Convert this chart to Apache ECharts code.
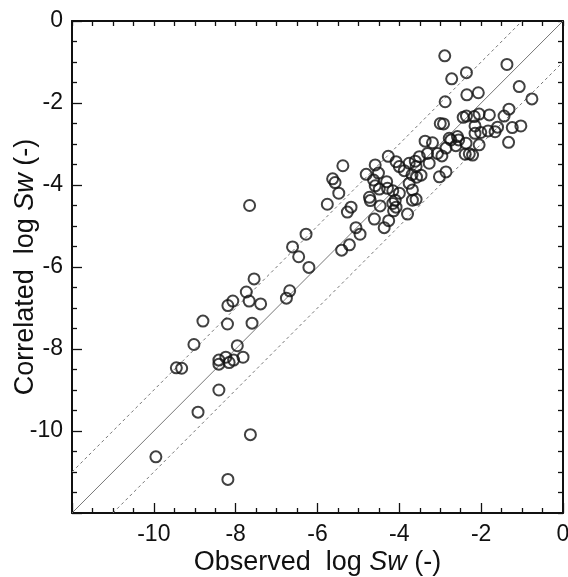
<!DOCTYPE html>
<html>
<head>
<meta charset="utf-8">
<script src="https://cdn.jsdelivr.net/npm/echarts@6/dist/echarts.min.js"></script>
<style>
  html, body { margin: 0; padding: 0; background: #fff; }
  #chart { width: 568px; height: 577px; }
</style>
</head>
<body>
<div id="chart"></div>
<script>
// Observed vs correlated log Sw
const observedLogSw = [
  -9.95, -8.19, -7.64, -8.92, -8.41, -9.45, -9.32, -8.41, -8.24, -8.41,
  -8.16, -8.05, -7.82, -9.02, -7.96, -8.80, -8.20, -7.60, -8.19, -8.07,
  -7.67, -7.39, -7.74, -7.55, -7.66, -6.68, -6.76, -6.21, -6.46, -6.61,
  -6.28, -5.41, -5.22, -5.76, -5.27, -5.18, -5.48, -5.63, -5.57, -5.38,
  -5.06, -4.96, -4.81, -4.59, -4.27, -4.61, -4.26, -4.37, -4.73, -4.71,
  -4.47, -4.16, -4.08, -4.14, -3.80, -4.63, -4.31, -4.59, -4.49, -4.29,
  -4.16, -4.00, -4.10, -3.59, -3.68, -4.51, -4.08, -4.00, -3.88, -3.76,
  -3.61, -3.76, -3.68, -3.51, -3.31, -3.27, -3.07, -2.96, -2.86, -2.86,
  -3.02, -3.69, -3.47, -3.58, -3.37, -3.19, -3.00, -2.92, -2.88, -2.89,
  -1.37, -2.36, -2.72, -1.07, -2.07, -2.35, -0.76, -1.32, -1.44, -2.44,
  -2.36, -2.17, -2.05, -1.80, -2.15, -1.83, -1.60, -1.24, -1.03, -2.15,
  -2.01, -1.66, -1.33, -2.05, -2.78, -2.74, -2.58, -2.55, -2.37, -2.62,
  -2.39, -2.29, -2.21, -3.59
];
const correlatedLogSw = [
  -10.63, -11.18, -10.09, -9.54, -9.00, -8.46, -8.47, -8.27, -8.20, -8.37,
  -8.33, -8.27, -8.20, -7.89, -7.92, -7.32, -7.39, -7.37, -6.94, -6.83,
  -6.83, -6.90, -6.61, -6.29, -4.50, -6.58, -6.76, -6.01, -5.75, -5.51,
  -5.20, -5.59, -5.46, -4.47, -4.66, -4.54, -4.20, -3.85, -3.94, -3.53,
  -5.04, -5.20, -3.74, -3.51, -3.30, -4.83, -4.87, -5.04, -4.30, -4.38,
  -4.51, -4.45, -4.54, -4.63, -4.71, -3.88, -3.92, -4.02, -4.10, -4.08,
  -4.14, -4.20, -4.37, -4.35, -4.37, -3.71, -3.43, -3.55, -3.65, -3.47,
  -3.42, -3.96, -4.12, -3.31, -3.23, -3.47, -3.23, -3.29, -3.10, -3.68,
  -3.80, -3.75, -3.76, -3.81, -2.93, -2.97, -2.50, -2.51, -1.97, -0.85,
  -1.06, -1.26, -1.41, -1.60, -1.75, -1.80, -1.90, -2.15, -2.32, -2.35,
  -2.32, -2.33, -2.27, -2.29, -2.56, -2.68, -2.59, -2.60, -2.56, -2.74,
  -2.72, -2.70, -2.96, -3.02, -2.86, -2.90, -2.82, -2.90, -2.98, -3.04,
  -3.25, -3.24, -3.27, -3.55
];

// 1:1 line and the +/-1 bands
const parityLine = [[-12, -12], [0, 0]];
const upperBand  = [[-12, -11], [-1, 0]];
const lowerBand  = [[-11, -12], [0, -1]];

const AXIS_MIN = -12;
const AXIS_MAX = 0;

const FONT = '"Liberation Sans", Arial, sans-serif';
const INK = '#111';

const chart = echarts.init(document.getElementById('chart'));

const points = observedLogSw.map((x, i) => [x, correlatedLogSw[i]]);

const hideMin = (v) => (v === AXIS_MIN ? '' : String(v));

const nameRich = {
  n: { fontSize: 27, fontFamily: FONT, color: INK },
  i: { fontSize: 27, fontFamily: FONT, color: INK, fontStyle: 'italic' },
};

// main axes (labels, long+short ticks)
const mainAxis = (name, gap, labelMargin) => ({
  type: 'value',
  min: AXIS_MIN,
  max: AXIS_MAX,
  interval: 2,
  axisLine:  { onZero: false, lineStyle: { color: INK, width: 2 } },
  axisTick:  { inside: true, length: 10, lineStyle: { color: INK, width: 1.3 } },
  minorTick: { show: true, splitNumber: 4, length: 5, lineStyle: { color: INK, width: 1.3 } },
  splitLine: { show: false },
  axisLabel: { fontSize: 23, fontFamily: FONT, color: INK, margin: labelMargin, formatter: hideMin },
  name,
  nameLocation: 'middle',
  nameGap: gap,
  nameMoveOverlap: false,
  nameTextStyle: { rich: nameRich },
});

// mirror axes on top / right: short ticks only
const mirrorAxis = (position) => ({
  type: 'value',
  position,
  min: AXIS_MIN,
  max: AXIS_MAX,
  interval: 0.5,
  axisLine:  { onZero: false, lineStyle: { color: INK, width: 2 } },
  axisTick:  { inside: true, length: 5, lineStyle: { color: INK, width: 1.3 } },
  axisLabel: { show: false },
  splitLine: { show: false },
});

const refLine = (data, type) => ({
  type: 'line',
  data,
  symbol: 'none',
  silent: true,
  lineStyle: { color: '#777', width: 1, type: type === 'dashed' ? [3, 3] : 'solid' },
  z: 1,
});

chart.setOption({
  backgroundColor: '#fff',
  animation: false,
  grid: { left: 72, top: 21, right: 5, bottom: 64, containLabel: false, outerBoundsMode: 'none' },
  xAxis: [
    { ...mainAxis('{n|Observed  log }{i|Sw}{n| (-)}', 36, 10), position: 'bottom' },
    mirrorAxis('top'),
  ],
  yAxis: [
    { ...mainAxis('{n|Correlated  log }{i|Sw}{n| (-)}', 33, 9), position: 'left', nameRotate: 90 },
    mirrorAxis('right'),
  ],
  series: [
    refLine(parityLine, 'solid'),
    refLine(upperBand, 'dashed'),
    refLine(lowerBand, 'dashed'),
    {
      type: 'scatter',
      data: points,
      symbol: 'circle',
      symbolSize: 11,
      itemStyle: { color: 'rgba(0,0,0,0)', borderColor: INK, borderWidth: 2 },
      z: 3,
    },
  ],
});
</script>
</body>
</html>
